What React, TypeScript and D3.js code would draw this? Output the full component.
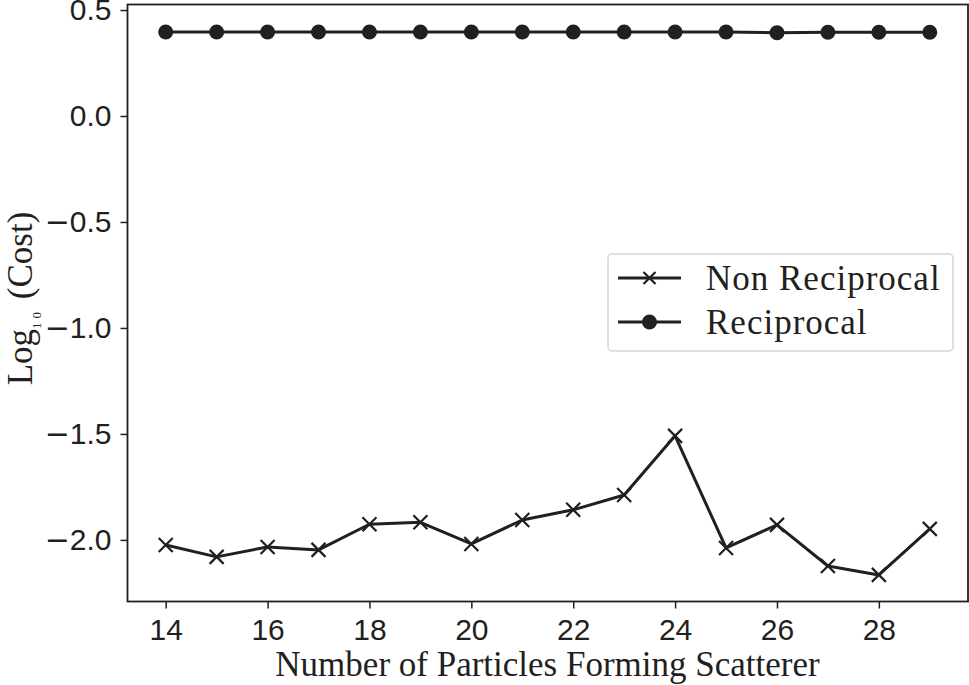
import { useEffect, useRef } from 'react';
import * as d3 from 'd3';

const particles = [14, 15, 16, 17, 18, 19, 20, 21, 22, 23, 24, 25, 26, 27, 28, 29];
const nonReciprocal = [-2.024, -2.08, -2.033, -2.047, -1.926, -1.917, -2.019, -1.906, -1.858, -1.788, -1.509, -2.038, -1.929, -2.123, -2.165, -1.948];
const reciprocal = [0.396, 0.396, 0.396, 0.396, 0.396, 0.396, 0.396, 0.396, 0.396, 0.396, 0.396, 0.396, 0.393, 0.395, 0.395, 0.395];
const xTicks = [14, 16, 18, 20, 22, 24, 26, 28];
const yTicks = [0.5, 0.0, -0.5, -1.0, -1.5, -2.0];
const seriesNames = ['Non Reciprocal', 'Reciprocal'];

const W = 969;
const H = 685;
const INK = '#231f20';
const SANS = '"Liberation Sans", Arial, sans-serif';
const SERIF = '"Liberation Serif", "Times New Roman", serif';

export default function App() {
  const svgRef = useRef<SVGSVGElement>(null);

  useEffect(() => {
    if (!svgRef.current) return;
    const svg = d3.select(svgRef.current);
    svg.selectAll('*').remove();

    const left = 127.5, right = 968, top = 4.5, bottom = 601.5;

    const x = d3.scaleLinear().domain([13.25, 29.75]).range([left, right]);
    const y = d3.scaleLinear().domain([-2.2905, 0.526]).range([bottom, top]);

    // frame
    svg.append('rect')
      .attr('x', left).attr('y', top)
      .attr('width', right - left).attr('height', bottom - top)
      .attr('fill', 'none').attr('stroke', INK).attr('stroke-width', 1.8);

    // x axis
    const xAxis = svg.append('g')
      .attr('transform', `translate(0,${bottom})`)
      .call(d3.axisBottom(x).tickValues(xTicks).tickSize(7).tickPadding(10).tickFormat(d3.format('d')));
    xAxis.select('.domain').remove();
    xAxis.selectAll('line').attr('stroke', INK).attr('stroke-width', 1.5);
    xAxis.selectAll('text')
      .style('font-family', SANS)
      .style('font-size', '30px')
      .attr('fill', INK);

    // y axis, minus sign drawn wider like the original
    const yAxis = svg.append('g')
      .attr('transform', `translate(${left},0)`)
      .call(d3.axisLeft(y).tickValues(yTicks).tickSize(7).tickPadding(9)
        .tickFormat((d) => d3.format('.1f')(Math.abs(d as number))));
    yAxis.select('.domain').remove();
    yAxis.selectAll('line').attr('stroke', INK).attr('stroke-width', 1.5);
    yAxis.selectAll<SVGTextElement, number>('text')
      .style('font-family', SANS)
      .style('font-size', '30px')
      .attr('fill', INK)
      .each(function (d) {
        if (d >= 0) return;
        const t = d3.select(this);
        const s = t.text();
        t.text(null);
        t.append('tspan').style('font-family', '"DejaVu Sans", sans-serif').attr('dx', 0).text('\u2212');
        t.append('tspan').text(s);
      });

    // axis titles
    svg.append('text')
      .attr('x', 547.5)
      .attr('y', 676)
      .attr('text-anchor', 'middle')
      .style('font-family', SERIF)
      .style('font-size', '35px')
      .attr('fill', INK)
      .text('Number of Particles Forming Scatterer');

    const yl = svg.append('text')
      .attr('transform', `translate(32,298.5) rotate(-90)`)
      .attr('text-anchor', 'middle')
      .style('font-family', SERIF)
      .style('font-size', '35px')
      .attr('fill', INK);
    yl.append('tspan').text('Log');
    yl.append('tspan').attr('dy', 9).style('font-size', '13px').style('letter-spacing', '4px').text('10');
    yl.append('tspan').attr('dy', -9).text(' (Cost)');

    const line = d3.line<[number, number]>().x((d) => x(d[0])).y((d) => y(d[1]));
    const nrPts = particles.map((p, i) => [p, nonReciprocal[i]] as [number, number]);
    const rPts = particles.map((p, i) => [p, reciprocal[i]] as [number, number]);

    const plot = svg.append('g');

    plot.append('path').datum(nrPts).attr('d', line)
      .attr('fill', 'none').attr('stroke', INK).attr('stroke-width', 3).attr('stroke-linejoin', 'round');
    const cross = (g: d3.Selection<SVGGElement, unknown, null, undefined>, cx: number, cy: number, s: number) => {
      g.append('path')
        .attr('d', `M${cx - s},${cy - s}L${cx + s},${cy + s}M${cx - s},${cy + s}L${cx + s},${cy - s}`)
        .attr('stroke', INK).attr('stroke-width', 2.2).attr('fill', 'none');
    };
    nrPts.forEach((d) => cross(plot, x(d[0]), y(d[1]), 7));

    plot.append('path').datum(rPts).attr('d', line)
      .attr('fill', 'none').attr('stroke', INK).attr('stroke-width', 3);
    plot.selectAll('circle.r').data(rPts).join('circle')
      .attr('class', 'r')
      .attr('cx', (d) => x(d[0])).attr('cy', (d) => y(d[1]))
      .attr('r', 7.5).attr('fill', INK);

    // legend
    const lg = svg.append('g');
    lg.append('rect')
      .attr('x', 608).attr('y', 254).attr('width', 345).attr('height', 97)
      .attr('rx', 4).attr('fill', 'white').attr('stroke', '#d6d6d6').attr('stroke-width', 1.5);
    const rows = [278, 322];
    seriesNames.forEach((name, i) => {
      const ry = rows[i];
      lg.append('line').attr('x1', 618).attr('x2', 681).attr('y1', ry).attr('y2', ry)
        .attr('stroke', INK).attr('stroke-width', 3);
      if (i === 0) cross(lg, 649.5, ry, 6);
      else lg.append('circle').attr('cx', 649.5).attr('cy', ry).attr('r', 7.5).attr('fill', INK);
      lg.append('text')
        .attr('x', 706).attr('y', ry + 12)
        .style('font-family', SERIF)
        .style('font-size', '35px')
        .style('letter-spacing', '1px')
        .attr('fill', INK)
        .text(name);
    });
  }, []);

  return (
    <svg
      ref={svgRef}
      width={W}
      height={H}
      style={{ position: 'absolute', left: 0, top: 0, background: 'white' }}
    />
  );
}
